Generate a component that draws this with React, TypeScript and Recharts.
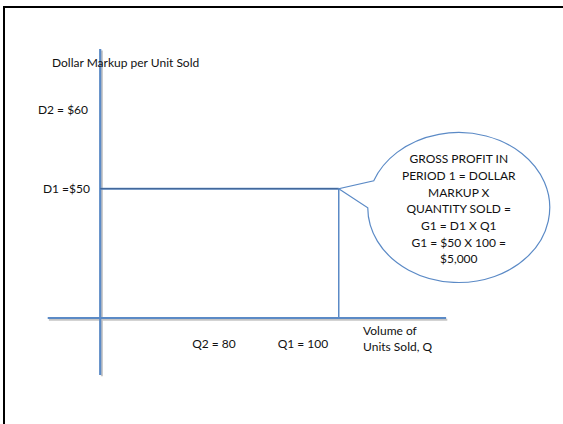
import { ComposedChart, Line, Scatter, XAxis, YAxis, ReferenceLine } from 'recharts';

// Gross profit box: D1 = $50 markup, Q1 = 100 units
const markupQuantity = [0, 100];
const markupValue = [50, 50];
const quantityQuantity = [100, 100];
const quantityValue = [50, 0];

// Axis extents (chart units)
const qAxisRange = [-22, 145];
const dAxisRange = [-22, 104];

// Text annotations, placed in chart units (sketch is not to scale)
const labelTexts = [
  'Dollar Markup per Unit Sold',
  'D2 = $60',
  'D1 =$50',
  'Q2 = 80',
  'Q1 = 100',
  'Volume of',
  'Units Sold, Q',
];
const labelQ = [-20.2, -5.1, -4.3, 47.7, 85, 110.2, 110.2];
const labelD = [99, 80.5, 50, -10, -10, -5, -11.2];
const labelAnchor = ['start', 'end', 'end', 'middle', 'middle', 'start', 'start'];

const calloutLines = [
  'GROSS PROFIT IN',
  'PERIOD 1 = DOLLAR',
  'MARKUP X',
  'QUANTITY SOLD =',
  'G1 = D1 X Q1',
  'G1 = $50 X 100 =',
  '$5,000',
];

const BLUE = '#5b8ac6';
const SHADOW = '#c4c4c4';
const FONT = 'Lato, "Open Sans", sans-serif';

const markupData = markupQuantity.map((q, i) => ({ q, d: markupValue[i] }));
const quantityData = quantityQuantity.map((q, i) => ({ q, d: quantityValue[i] }));
const labelData = labelTexts.map((text, i) => ({
  q: labelQ[i],
  d: labelD[i],
  text,
  anchor: labelAnchor[i],
}));
const calloutData = [{ q: markupQuantity[1], d: markupValue[1] }];

function LabelShape(props: any) {
  const { cx, cy, payload } = props;
  return (
    <text
      x={cx}
      y={cy}
      textAnchor={payload.anchor}
      dominantBaseline="central"
      fontFamily={FONT}
      fontSize={12}
      fill="#111"
    >
      {payload.text}
    </text>
  );
}

// speech balloon anchored at the corner (Q1, D1)
function CalloutShape(props: any) {
  const { cx, cy } = props;
  const rx = 91;
  const ry = 75;
  const path =
    `M ${cx + 35} ${cy - 8} ` +
    `A ${rx} ${ry} 0 1 1 ${cx + 29} ${cy + 19} ` +
    `L ${cx} ${cy} Z`;
  return (
    <g>
      <path d={path} fill="#ffffff" stroke={BLUE} strokeWidth={1.2} />
      {calloutLines.map((line, i) => (
        <text
          key={i}
          x={cx + 120}
          y={cy - 30 + i * 16.7}
          textAnchor="middle"
          dominantBaseline="central"
          fontFamily={FONT}
          fontSize={12}
          fill="#111"
        >
          {line}
        </text>
      ))}
    </g>
  );
}

export default function App() {
  return (
    <div style={{ position: 'absolute', left: 0, top: 0, width: 563, height: 424, background: '#fff', overflow: 'hidden' }}>
      <div
        style={{
          position: 'absolute',
          left: 3,
          top: 6,
          width: 570,
          height: 430,
          borderLeft: '2px solid #000',
          borderTop: '2px solid #000',
        }}
      />
      <div style={{ position: 'absolute', left: 0, top: 0 }}>
        <ComposedChart width={563} height={424} margin={{ top: 0, right: 0, bottom: 0, left: 0 }}>
          <XAxis dataKey="q" type="number" domain={[-42, 194]} hide allowDataOverflow />
          <YAxis dataKey="d" type="number" domain={[-41, 123]} hide allowDataOverflow />

          {/* soft shadows under the hand-drawn axes */}
          <ReferenceLine
            segment={[
              { x: 0.7, y: dAxisRange[0] - 0.5 },
              { x: 0.7, y: dAxisRange[1] - 0.5 },
            ]}
            stroke={SHADOW}
            strokeWidth={2}
          />
          <ReferenceLine
            segment={[
              { x: qAxisRange[0] + 0.5, y: -0.7 },
              { x: qAxisRange[1] + 0.5, y: -0.7 },
            ]}
            stroke={SHADOW}
            strokeWidth={2}
          />

          <ReferenceLine
            segment={[
              { x: 0, y: dAxisRange[0] },
              { x: 0, y: dAxisRange[1] },
            ]}
            stroke={BLUE}
            strokeWidth={2.2}
          />
          <ReferenceLine
            segment={[
              { x: qAxisRange[0], y: 0 },
              { x: qAxisRange[1], y: 0 },
            ]}
            stroke={BLUE}
            strokeWidth={2.2}
          />

          <Line
            data={quantityData}
            dataKey="d"
            type="linear"
            stroke={BLUE}
            strokeWidth={1.5}
            dot={false}
            isAnimationActive={false}
          />
          <Line
            data={markupData}
            dataKey="d"
            type="linear"
            stroke={BLUE}
            strokeWidth={2}
            dot={false}
            isAnimationActive={false}
          />
          <Line
            data={markupData}
            dataKey="d"
            type="linear"
            stroke="#1f3354"
            strokeOpacity={0.55}
            strokeWidth={0.9}
            dot={false}
            isAnimationActive={false}
          />

          <Scatter data={calloutData} dataKey="d" shape={CalloutShape} isAnimationActive={false} />
          <Scatter data={labelData} dataKey="d" shape={LabelShape} isAnimationActive={false} />
        </ComposedChart>
      </div>
    </div>
  );
}
